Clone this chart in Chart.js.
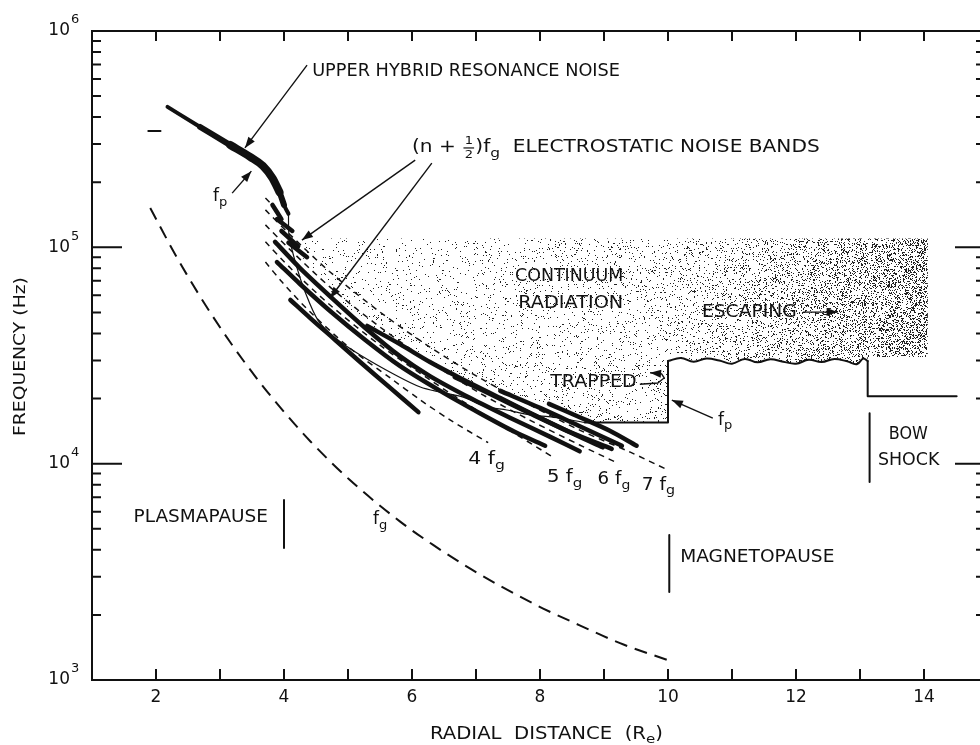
<!DOCTYPE html>
<html lang="en">
<head>
<meta charset="UTF-8">
<title>Plasma wave frequencies vs radial distance</title>
<script src="https://cdn.jsdelivr.net/npm/chart.js@4.4.1/dist/chart.umd.min.js"></script>
<style>
  html, body { margin: 0; padding: 0; background: #fff; overflow: hidden; }
  #wrap { width: 1000px; height: 745px; }
</style>
</head>
<body>
<div id="wrap"><canvas id="chart"></canvas></div>
<script>
// ---- data: [radial distance (Re), frequency (Hz)] ----
const upperHybrid = [[2.18,4.46e5],[2.69,3.60e5],[3.16,2.97e5],[3.47,2.62e5],[3.67,2.38e5],[3.82,2.09e5],[3.93,1.80e5],[4.00,1.57e5],[4.07,1.43e5]];
const gyroFreq = [[1.91,1.52e5],[2.30,9.27e4],[2.69,5.92e4],[3.16,3.64e4],[3.63,2.36e4],[3.99,1.75e4],[4.41,1.27e4],[5.03,8.4e3],[5.81,5.41e3],[6.33,4.21e3],[6.91,3.27e3],[7.38,2.72e3],[8.05,2.14e3],[8.62,1.79e3],[9.25,1.48e3],[9.98,1.24e3]];

const harm4 = [[3.71,8.55e4],[3.97,6.91e4],[4.41,5.02e4],[5.03,3.42e4],[5.66,2.49e4],[6.13,1.97e4],[6.60,1.59e4],[7.19,1.25e4]];
const harm5 = [[3.71,1.06e5],[4.10,8.02e4],[4.72,5.41e4],[5.50,3.53e4],[6.28,2.44e4],[7.06,1.73e4],[7.69,1.33e4],[8.23,1.06e4]];
const harm6 = [[3.71,1.27e5],[4.10,9.72e4],[4.72,6.55e4],[5.50,4.28e4],[6.28,2.95e4],[7.06,2.12e4],[7.84,1.59e4],[8.62,1.22e4],[9.17,1.02e4]];
const harm7 = [[3.71,1.49e5],[4.10,1.14e5],[4.72,7.69e4],[5.50,5.02e4],[6.28,3.46e4],[7.06,2.49e4],[7.84,1.87e4],[8.62,1.43e4],[9.41,1.13e4],[10.0,9.34e3]];
const harm8 = [[3.71,1.69e5],[3.86,1.52e5]];

const band1 = [[4.10,5.71e4],[4.41,4.71e4],[4.80,3.73e4],[5.19,2.95e4],[5.66,2.24e4],[6.10,1.73e4]];
const band2 = [[3.89,8.55e4],[4.25,6.77e4],[4.72,5.08e4],[5.27,3.73e4],[5.81,2.83e4],[6.44,2.17e4],[7.06,1.71e4],[7.61,1.40e4],[8.08,1.21e4]];
const band3 = [[3.86,1.06e5],[4.25,8.02e4],[4.75,5.83e4],[5.27,4.24e4],[5.81,3.14e4],[6.28,2.54e4],[6.91,2.01e4],[7.53,1.63e4],[8.16,1.33e4],[8.62,1.14e4]];
const band4 = [[5.30,4.33e4],[5.81,3.57e4],[6.28,2.95e4],[6.75,2.49e4],[7.38,2.01e4],[8.00,1.63e4],[8.55,1.36e4],[8.98,1.19e4]];
const band5 = [[6.67,2.51e4],[7.22,2.10e4],[7.84,1.71e4],[8.47,1.40e4],[9.12,1.17e4]];
const band6 = [[7.38,2.17e4],[8.00,1.81e4],[8.62,1.49e4],[9.28,1.21e4]];
const band7 = [[8.14,1.89e4],[8.62,1.64e4],[9.09,1.42e4],[9.51,1.21e4]];
const stub1 = [[3.82,1.57e5],[3.96,1.35e5]];
const stub2 = [[3.89,1.35e5],[4.13,1.19e5]];
const stub3 = [[3.96,1.19e5],[4.22,1.01e5]];
const stub4 = [[4.07,1.05e5],[4.36,9.0e4]];

const plasmaFreq = [[4.07,1.43e5],[4.08,1.13e5],[4.19,8.28e4],[4.33,6.22e4],[4.53,4.61e4],[4.80,3.81e4],[5.19,3.18e4],[5.74,2.57e4],[6.13,2.26e4],[6.44,2.14e4],[6.80,2.03e4],[7.17,1.83e4],[7.48,1.77e4],[7.84,1.68e4],[8.20,1.64e4],[8.70,1.55e4]];
const trappedEdge = [[8.70,1.55e4],[10.0,1.55e4],[10.0,2.98e4]];
const fpWavy = [[10.0,2.98e4],[10.2,3.08e4],[10.4,2.96e4],[10.6,3.06e4],[10.8,3.0e4],[11.0,2.9e4],[11.2,3.05e4],[11.4,2.94e4],[11.6,3.04e4],[11.8,2.96e4],[12.0,2.9e4],[12.2,3.02e4],[12.4,2.95e4],[12.6,3.05e4],[12.8,2.97e4],[12.95,2.88e4],[13.05,3.06e4],[13.12,2.98e4]];
const sheathEdge = [[13.12,2.98e4],[13.12,2.05e4],[14.51,2.05e4]];

const continuumNear = [[4.10,1.10e5],[10.0,1.10e5],[10.0,1.55e4],[8.78,1.55e4],[8.31,1.79e4],[7.84,1.99e4],[7.38,2.19e4],[6.91,2.36e4],[6.44,2.77e4],[5.81,3.57e4],[5.30,4.37e4],[4.80,5.95e4],[4.41,8.02e4],[4.18,9.93e4]];
const continuumFarTop = [[10.0,1.10e5],[14.06,1.10e5],[14.06,3.11e4],[13.12,3.11e4]];

const plasmapause = [[4.0,6.79e3],[4.0,4.07e3]];
const magnetopause = [[10.02,4.68e3],[10.02,2.55e3]];
const bowShock = [[13.15,1.71e4],[13.15,8.22e3]];
const strayDash = [[1.88,3.45e5],[2.07,3.45e5]];

const xTickLabels = [2, 4, 6, 8, 10, 12, 14];
const yDecades = [1e3, 1e4, 1e5, 1e6];
const yExponents = ['3', '4', '5', '6'];

// ---- annotations (placed in data coordinates) ----
const labels = [
  {runs: [{t: 'UPPER HYBRID RESONANCE NOISE'}], at: [4.44, 6.46e5], to: 9.25},
  {runs: [{t: '(n + '}, {frac: ['1', '2'], size: 11}, {t: ')f'}, {t: 'g', size: 13, dy: 6}, {t: '  ELECTROSTATIC NOISE BANDS'}], at: [6.00, 2.88e5], to: 12.37},
  {runs: [{t: 'CONTINUUM'}], at: [7.61, 7.29e4], to: 9.30},
  {runs: [{t: 'RADIATION'}], at: [7.66, 5.47e4], to: 9.30},
  {runs: [{t: 'ESCAPING'}], at: [10.53, 5.02e4], to: 12.01},
  {runs: [{t: 'TRAPPED'}], at: [8.16, 2.38e4], to: 9.51},
  {runs: [{t: 'f'}, {t: 'p', size: 13, dy: 6}], at: [10.78, 1.59e4]},
  {runs: [{t: 'f'}, {t: 'p', size: 13, dy: 6}], at: [2.89, 1.71e5]},
  {runs: [{t: 'BOW'}], at: [13.45, 1.356e4], to: 14.06},
  {runs: [{t: 'SHOCK'}], at: [13.28, 1.028e4], to: 14.24},
  {runs: [{t: '4 f'}, {t: 'g', size: 13, dy: 6}], at: [6.88, 1.039e4], to: 7.45},
  {runs: [{t: '5 f'}, {t: 'g', size: 13, dy: 6}], at: [8.11, 8.58e3], to: 8.66},
  {runs: [{t: '6 f'}, {t: 'g', size: 13, dy: 6}], at: [8.90, 8.40e3], to: 9.41},
  {runs: [{t: '7 f'}, {t: 'g', size: 13, dy: 6}], at: [9.59, 7.96e3], to: 10.11},
  {runs: [{t: 'PLASMAPAUSE'}], at: [1.65, 5.61e3], to: 3.75},
  {runs: [{t: 'f'}, {t: 'g', size: 13, dy: 6}], at: [5.39, 5.49e3]},
  {runs: [{t: 'MAGNETOPAUSE'}], at: [10.19, 3.70e3], to: 12.60}
];
const arrows = [
  [[4.36, 6.96e5], [3.39, 2.88e5]],
  [[6.05, 2.53e5], [4.28, 1.08e5]],
  [[6.31, 2.45e5], [4.72, 5.83e4]],
  [[3.19, 1.78e5], [3.49, 2.25e5]],
  [[12.11, 5.02e4], [12.65, 5.02e4]],
  [[10.70, 1.625e4], [10.06, 1.968e4]],
  [[9.56, 2.33e4], [9.84, 2.36e4], [9.94, 2.49e4], [9.90, 2.60e4], [9.72, 2.63e4]]
];

const INK = '#111';
const FONT = '"DejaVu Sans", sans-serif';
const font = s => s + 'px ' + FONT;

// stippled texture for the continuum radiation
function hash(x, y) {
  let h = Math.imul(x, 374761393) + Math.imul(y, 668265263);
  h = Math.imul(h ^ (h >>> 13), 1274126177);
  h = h ^ (h >>> 16);
  return (h >>> 0) / 4294967296;
}
function stipple(w, h, density) {
  const c = document.createElement('canvas');
  c.width = w; c.height = h;
  const g = c.getContext('2d');
  g.fillStyle = '#222';
  for (let y = 0; y < h; y++) {
    for (let x = 0; x < w; x++) {
      if (hash(x, y) < density(x)) g.fillRect(x, y, 1, 1);
    }
  }
  return c;
}
const clamp01 = v => Math.min(1, Math.max(0, v));

const canvas = document.getElementById('chart');
const cctx = canvas.getContext('2d');
const lightDots = cctx.createPattern(stipple(1000, 745, x => 0.025 + 0.035 * clamp01((x - 290) / 380)), 'no-repeat');
const denseDots = cctx.createPattern(stipple(1000, 745, x => 0.07 + 0.24 * Math.pow(clamp01((x - 668) / 260), 1.3)), 'no-repeat');

const pts = arr => arr.map(([x, y]) => ({x, y}));
function curve(arr, opts) {
  return Object.assign({data: pts(arr), showLine: true, borderColor: INK, borderWidth: 2,
    pointRadius: 0, fill: false, tension: 0, borderCapStyle: 'round', borderJoinStyle: 'round'}, opts);
}
const band = arr => curve(arr, {borderWidth: 4.5, tension: 0.3});
const harm = arr => curve(arr, {borderWidth: 1.5, borderDash: [6, 5], borderCapStyle: 'butt', tension: 0.3});

const datasets = [
  curve(continuumNear, {fill: 'shape', backgroundColor: lightDots, borderWidth: 0, order: 10}),
  curve(continuumFarTop.concat(fpWavy.slice().reverse()), {fill: 'shape', backgroundColor: denseDots, borderWidth: 0, order: 10}),
  curve(upperHybrid, {borderWidth: 4, cubicInterpolationMode: 'monotone'}),
  curve(upperHybrid.slice(1, 8), {borderWidth: 6, cubicInterpolationMode: 'monotone'}),
  curve(upperHybrid.slice(2, 7), {borderWidth: 8, cubicInterpolationMode: 'monotone'}),
  curve(gyroFreq, {borderWidth: 2, borderDash: [13, 8], borderCapStyle: 'butt', cubicInterpolationMode: 'monotone'}),
  harm(harm4), harm(harm5), harm(harm6), harm(harm7), harm(harm8),
  band(band1), band(band2), band(band3), band(band4), band(band5), band(band6), band(band7),
  band(stub1), band(stub2), band(stub3), band(stub4),
  curve(plasmaFreq, {borderWidth: 1.2, tension: 0.3}),
  curve(trappedEdge, {borderWidth: 2}),
  curve(fpWavy, {borderWidth: 2, tension: 0.4}),
  curve(sheathEdge, {borderWidth: 2}),
  curve(plasmapause, {borderWidth: 2}),
  curve(magnetopause, {borderWidth: 2}),
  curve(bowShock, {borderWidth: 2}),
  curve(strayDash, {borderWidth: 2})
];

function measureRuns(ctx, runs) {
  let w = 0;
  runs.forEach(r => {
    ctx.font = font(r.size || 17);
    r._w = r.frac
      ? Math.max(ctx.measureText(r.frac[0]).width, ctx.measureText(r.frac[1]).width) + 4
      : ctx.measureText(r.t).width;
    w += r._w;
  });
  return w;
}
function drawRuns(ctx, runs, x, y, targetW) {
  const w = measureRuns(ctx, runs);
  const sx = targetW ? targetW / w : 1;
  ctx.save();
  ctx.translate(x, y);
  ctx.scale(sx, 1);
  ctx.fillStyle = INK;
  ctx.textBaseline = 'middle';
  let cx = 0;
  runs.forEach(r => {
    ctx.font = font(r.size || 17);
    if (r.frac) {
      ctx.textAlign = 'center';
      ctx.fillText(r.frac[0], cx + r._w / 2, -7);
      ctx.fillText(r.frac[1], cx + r._w / 2, 7);
      ctx.fillRect(cx + 1, -0.6, r._w - 2, 1.2);
    } else {
      ctx.textAlign = 'left';
      ctx.fillText(r.t, cx, r.dy || 0);
    }
    cx += r._w;
  });
  ctx.restore();
  return w * sx;
}

const framePlugin = {
  id: 'frame',
  afterDatasetsDraw(chart) {
    const {ctx, chartArea: a, scales: {x, y}} = chart;
    const X = v => x.getPixelForValue(v);
    const Y = v => y.getPixelForValue(v);
    ctx.save();
    ctx.strokeStyle = INK;
    ctx.fillStyle = INK;
    ctx.lineWidth = 2;
    ctx.strokeRect(a.left, a.top, a.right - a.left, a.bottom - a.top);

    // x ticks, inward on top and bottom
    ctx.beginPath();
    for (let v = Math.ceil(x.min) + 1; v < x.max; v++) {
      const px = X(v);
      ctx.moveTo(px, a.top); ctx.lineTo(px, a.top + 10);
      ctx.moveTo(px, a.bottom); ctx.lineTo(px, a.bottom - 11);
    }
    // y ticks, inward on left and right
    yDecades.slice(0, -1).forEach((d, i) => {
      for (let m = 1; m < 10; m++) {
        if (m === 1 && i === 0) continue;
        const py = Y(d * m);
        const major = m === 1;
        ctx.moveTo(a.left, py); ctx.lineTo(a.left + (major ? 30 : 9), py);
        ctx.moveTo(a.right, py); ctx.lineTo(a.right - (major ? 33 : 12), py);
      }
    });
    ctx.stroke();

    // tick labels
    ctx.textBaseline = 'middle';
    ctx.textAlign = 'center';
    ctx.font = font(17);
    xTickLabels.forEach(v => ctx.fillText(String(v), X(v), a.bottom + 18));
    yDecades.forEach((d, i) => {
      const py = Y(d);
      ctx.font = font(17);
      ctx.textAlign = 'right';
      ctx.fillText('10', a.left - 22, py);
      ctx.font = font(13);
      ctx.textAlign = 'left';
      ctx.fillText(yExponents[i], a.left - 21, py - 11);
    });

    // axis titles
    drawRuns(ctx, [{t: 'RADIAL  DISTANCE  (R'}, {t: 'e', size: 13, dy: 5}, {t: ')'}],
      X(6.28), a.bottom + 55, X(9.92) - X(6.28));
    ctx.save();
    ctx.translate(a.left - 71, Y(3.11e4));
    ctx.rotate(-Math.PI / 2);
    drawRuns(ctx, [{t: 'FREQUENCY (Hz)', size: 16}], -79, 0, 159);
    ctx.restore();

    // labels
    labels.forEach(l => {
      const px = X(l.at[0]);
      drawRuns(ctx, l.runs, px, Y(l.at[1]), l.to ? X(l.to) - px : 0);
    });

    // arrows
    ctx.lineWidth = 1.4;
    arrows.forEach(ar => {
      const p = ar.map(([u, v]) => [X(u), Y(v)]);
      ctx.beginPath();
      ctx.moveTo(p[0][0], p[0][1]);
      p.slice(1).forEach(q => ctx.lineTo(q[0], q[1]));
      ctx.stroke();
      const [x1, y1] = p[p.length - 2];
      const [x2, y2] = p[p.length - 1];
      const ang = Math.atan2(y2 - y1, x2 - x1);
      ctx.beginPath();
      ctx.moveTo(x2, y2);
      ctx.lineTo(x2 - 11 * Math.cos(ang) + 4 * Math.sin(ang), y2 - 11 * Math.sin(ang) - 4 * Math.cos(ang));
      ctx.lineTo(x2 - 11 * Math.cos(ang) - 4 * Math.sin(ang), y2 - 11 * Math.sin(ang) + 4 * Math.cos(ang));
      ctx.closePath();
      ctx.fill();
    });
    ctx.restore();
  }
};

new Chart(canvas, {
  type: 'scatter',
  data: {datasets},
  options: {
    responsive: true,
    maintainAspectRatio: false,
    animation: false,
    events: [],
    layout: {padding: {left: 92, right: 12, top: 31, bottom: 65}},
    scales: {
      x: {type: 'linear', min: 1, max: 15, display: false},
      y: {type: 'logarithmic', min: 1e3, max: 1e6, display: false}
    },
    plugins: {legend: {display: false}, tooltip: {enabled: false}}
  },
  plugins: [framePlugin]
});
</script>
</body>
</html>
